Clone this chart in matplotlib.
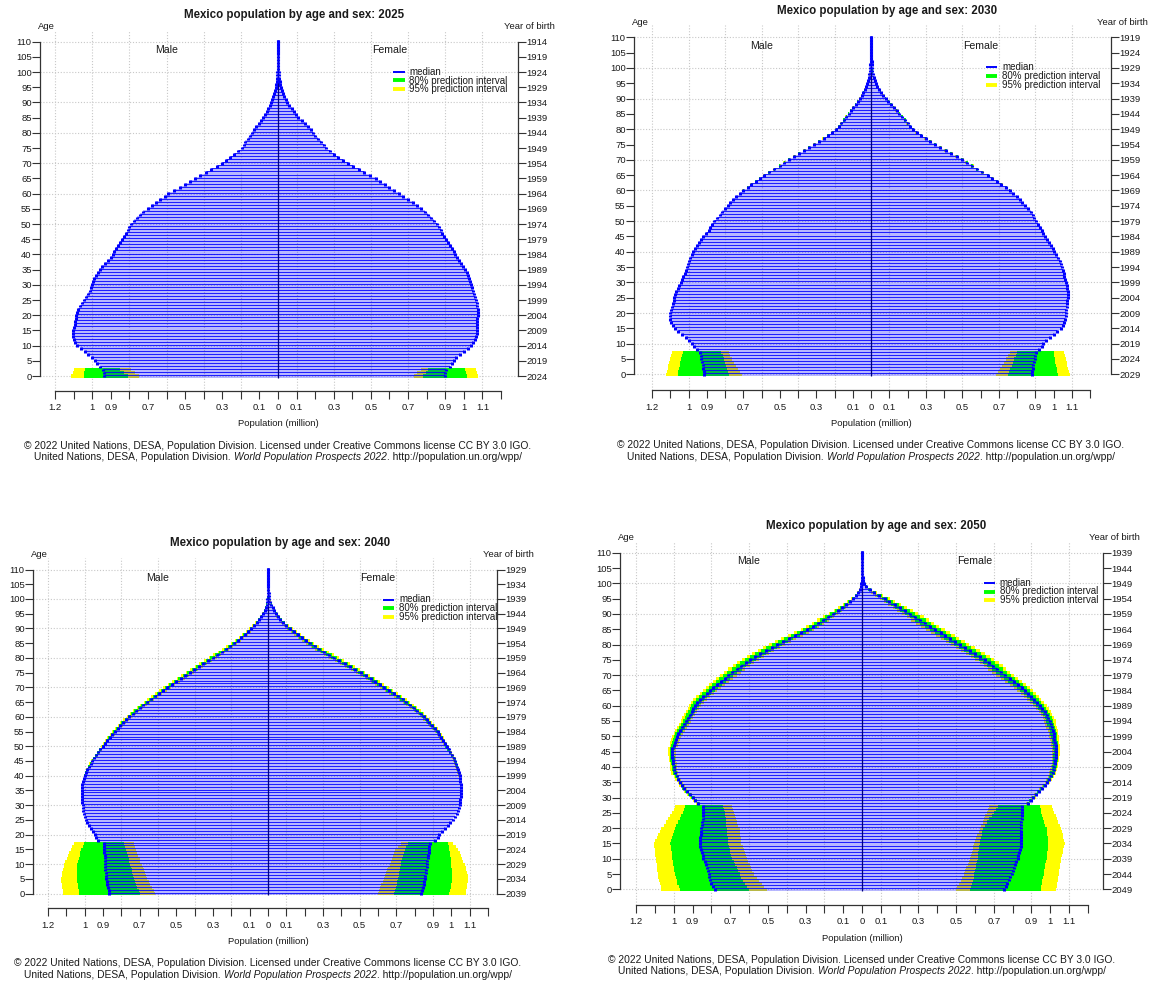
import numpy as np
import matplotlib
matplotlib.use("Agg")
import matplotlib.pyplot as plt

plt.rcParams['font.family'] = ['Liberation Sans', 'DejaVu Sans']

W, H = 1149, 981
ages = np.arange(111)

# ---------------- medians, million, ages 0..110 ----------------
male_2025 = [
    0.935, 0.935, 0.94, 0.96, 0.975, 0.985, 1.0, 1.02, 1.04, 1.06,
    1.08, 1.09, 1.10, 1.105, 1.105, 1.105, 1.10, 1.095, 1.09, 1.085,
    1.085, 1.08, 1.075, 1.065, 1.055, 1.045, 1.035, 1.02, 1.01, 1.005,
    1.0, 0.995, 0.99, 0.98, 0.97, 0.96, 0.945, 0.93, 0.915, 0.90,
    0.89, 0.88, 0.87, 0.86, 0.85, 0.84, 0.83, 0.82, 0.81, 0.80,
    0.79, 0.775, 0.76, 0.745, 0.725, 0.70, 0.68, 0.655, 0.635, 0.61,
    0.59, 0.56, 0.53, 0.50, 0.475, 0.447, 0.42, 0.39, 0.36, 0.33,
    0.30, 0.28, 0.26, 0.235, 0.215, 0.195, 0.185, 0.175, 0.163, 0.152,
    0.142, 0.13, 0.117, 0.104, 0.091, 0.079, 0.07, 0.061, 0.053, 0.045,
    0.038, 0.031, 0.025, 0.02, 0.016, 0.012, 0.009, 0.007, 0.005, 0.004,
    0.003, 0.002, 0.0015, 0.001, 0.0007, 0.0005, 0.0003, 0.0002, 0.0001, 0.0001, 0.0]
female_2025 = [
    0.90, 0.90, 0.905, 0.925, 0.935, 0.945, 0.96, 0.98, 1.0, 1.02,
    1.04, 1.05, 1.06, 1.065, 1.07, 1.07, 1.07, 1.07, 1.07, 1.07,
    1.075, 1.075, 1.075, 1.07, 1.07, 1.065, 1.06, 1.055, 1.05, 1.045,
    1.04, 1.035, 1.03, 1.025, 1.015, 1.005, 0.995, 0.985, 0.975, 0.965,
    0.955, 0.945, 0.935, 0.925, 0.915, 0.905, 0.895, 0.885, 0.875, 0.865,
    0.855, 0.84, 0.825, 0.81, 0.79, 0.77, 0.75, 0.725, 0.70, 0.675,
    0.65, 0.625, 0.60, 0.575, 0.55, 0.525, 0.495, 0.465, 0.435, 0.405,
    0.375, 0.35, 0.325, 0.30, 0.28, 0.26, 0.245, 0.23, 0.215, 0.20,
    0.19, 0.175, 0.16, 0.145, 0.13, 0.11, 0.097, 0.085, 0.073, 0.06,
    0.05, 0.041, 0.034, 0.027, 0.021, 0.016, 0.012, 0.009, 0.006, 0.004,
    0.003, 0.002, 0.0015, 0.001, 0.0007, 0.0005, 0.0003, 0.0002, 0.0001, 0.0001, 0.0]

male_2030 = [
    0.915, 0.917, 0.92, 0.923, 0.926, 0.929, 0.932, 0.935, 0.955, 0.97,
    0.98, 0.995, 1.015, 1.035, 1.055, 1.075, 1.085, 1.095, 1.10, 1.10,
    1.10, 1.095, 1.09, 1.085, 1.08, 1.08, 1.075, 1.07, 1.06, 1.05,
    1.04, 1.035, 1.03, 1.02, 1.015, 1.01, 1.005, 0.995, 0.99, 0.98,
    0.975, 0.965, 0.955, 0.945, 0.93, 0.92, 0.905, 0.89, 0.88, 0.87,
    0.86, 0.845, 0.83, 0.815, 0.80, 0.785, 0.77, 0.755, 0.74, 0.72,
    0.70, 0.675, 0.655, 0.63, 0.61, 0.585, 0.56, 0.53, 0.50, 0.475,
    0.45, 0.42, 0.395, 0.365, 0.34, 0.31, 0.285, 0.26, 0.235, 0.212,
    0.19, 0.175, 0.162, 0.148, 0.135, 0.123, 0.11, 0.097, 0.084, 0.072,
    0.06, 0.05, 0.042, 0.034, 0.027, 0.021, 0.016, 0.012, 0.009, 0.006,
    0.004, 0.003, 0.002, 0.0015, 0.001, 0.0007, 0.0004, 0.0002, 0.0001, 0.0001, 0.0]
female_2030 = [
    0.88, 0.883, 0.886, 0.89, 0.893, 0.896, 0.90, 0.904, 0.92, 0.935,
    0.945, 0.96, 0.98, 1.0, 1.02, 1.04, 1.05, 1.06, 1.065, 1.07,
    1.07, 1.07, 1.075, 1.075, 1.075, 1.08, 1.08, 1.08, 1.075, 1.075,
    1.07, 1.065, 1.06, 1.055, 1.05, 1.045, 1.04, 1.035, 1.025, 1.015,
    1.005, 0.995, 0.985, 0.975, 0.965, 0.955, 0.945, 0.935, 0.925, 0.915,
    0.905, 0.895, 0.885, 0.875, 0.86, 0.845, 0.83, 0.815, 0.80, 0.78,
    0.76, 0.74, 0.715, 0.69, 0.665, 0.64, 0.61, 0.58, 0.555, 0.525,
    0.50, 0.47, 0.44, 0.41, 0.38, 0.35, 0.325, 0.30, 0.275, 0.25,
    0.23, 0.215, 0.20, 0.185, 0.17, 0.155, 0.14, 0.125, 0.11, 0.095,
    0.08, 0.066, 0.054, 0.044, 0.035, 0.027, 0.02, 0.015, 0.011, 0.008,
    0.005, 0.004, 0.003, 0.002, 0.0013, 0.0008, 0.0005, 0.0003, 0.0002, 0.0001, 0.0]

male_2040 = [
    0.866, 0.87, 0.873, 0.876, 0.879, 0.882, 0.884, 0.886, 0.888, 0.889,
    0.89, 0.89, 0.891, 0.891, 0.892, 0.892, 0.892, 0.892, 0.93, 0.94,
    0.945, 0.955, 0.965, 0.975, 0.985, 0.995, 1.0, 1.005, 1.008, 1.01,
    1.012, 1.014, 1.015, 1.016, 1.016, 1.016, 1.015, 1.013, 1.01, 1.005,
    1.0, 0.993, 0.985, 0.977, 0.968, 0.958, 0.948, 0.937, 0.926, 0.914,
    0.902, 0.89, 0.877, 0.864, 0.85, 0.836, 0.821, 0.806, 0.79, 0.773,
    0.756, 0.738, 0.72, 0.70, 0.68, 0.66, 0.64, 0.618, 0.596, 0.573,
    0.55, 0.526, 0.502, 0.477, 0.452, 0.427, 0.402, 0.377, 0.352, 0.327,
    0.302, 0.277, 0.253, 0.23, 0.208, 0.186, 0.165, 0.145, 0.126, 0.108,
    0.092, 0.076, 0.062, 0.049, 0.037, 0.027, 0.019, 0.013, 0.008, 0.005,
    0.003, 0.002, 0.0013, 0.0008, 0.0005, 0.0003, 0.0002, 0.0001, 0.0001, 0.0, 0.0]
female_2040 = [
    0.837, 0.841, 0.845, 0.849, 0.853, 0.857, 0.859, 0.861, 0.864, 0.866,
    0.868, 0.87, 0.872, 0.874, 0.876, 0.878, 0.88, 0.882, 0.91, 0.925,
    0.935, 0.95, 0.965, 0.98, 0.995, 1.01, 1.02, 1.03, 1.035, 1.04,
    1.045, 1.05, 1.05, 1.055, 1.055, 1.055, 1.055, 1.055, 1.05, 1.05,
    1.045, 1.04, 1.035, 1.03, 1.025, 1.02, 1.015, 1.005, 0.995, 0.985,
    0.975, 0.965, 0.955, 0.945, 0.935, 0.925, 0.91, 0.895, 0.88, 0.865,
    0.85, 0.835, 0.815, 0.795, 0.775, 0.755, 0.735, 0.71, 0.685, 0.66,
    0.635, 0.61, 0.585, 0.56, 0.532, 0.505, 0.477, 0.448, 0.419, 0.39,
    0.36, 0.333, 0.306, 0.28, 0.255, 0.23, 0.207, 0.184, 0.162, 0.141,
    0.12, 0.10, 0.083, 0.068, 0.055, 0.044, 0.034, 0.025, 0.018, 0.012,
    0.008, 0.005, 0.003, 0.002, 0.0012, 0.0007, 0.0004, 0.0002, 0.0001, 0.0001, 0.0]

male_2050 = [
    0.78, 0.79, 0.80, 0.805, 0.81, 0.815, 0.82, 0.825, 0.83, 0.835,
    0.843, 0.847, 0.851, 0.855, 0.858, 0.86, 0.86, 0.858, 0.856, 0.854,
    0.853, 0.851, 0.849, 0.847, 0.845, 0.843, 0.842, 0.842, 0.87, 0.885,
    0.90, 0.915, 0.93, 0.945, 0.955, 0.965, 0.975, 0.985, 0.995, 1.0,
    1.0, 1.003, 1.005, 1.007, 1.008, 1.008, 1.007, 1.0, 0.995, 0.99,
    0.985, 0.975, 0.965, 0.955, 0.945, 0.935, 0.925, 0.915, 0.905, 0.895,
    0.887, 0.875, 0.86, 0.845, 0.825, 0.806, 0.79, 0.77, 0.75, 0.73,
    0.71, 0.69, 0.665, 0.642, 0.618, 0.594, 0.567, 0.54, 0.51, 0.48,
    0.45, 0.42, 0.39, 0.355, 0.322, 0.29, 0.262, 0.234, 0.206, 0.178,
    0.152, 0.128, 0.105, 0.085, 0.065, 0.046, 0.032, 0.02, 0.011, 0.006,
    0.003, 0.002, 0.0013, 0.0008, 0.0005, 0.0003, 0.0002, 0.0001, 0.0001, 0.0, 0.0]
female_2050 = [
    0.755, 0.765, 0.772, 0.78, 0.787, 0.795, 0.802, 0.809, 0.815, 0.82,
    0.826, 0.83, 0.835, 0.84, 0.843, 0.846, 0.846, 0.846, 0.846, 0.846,
    0.846, 0.846, 0.847, 0.848, 0.849, 0.85, 0.85, 0.851, 0.88, 0.895,
    0.91, 0.925, 0.94, 0.955, 0.97, 0.985, 0.995, 1.005, 1.012, 1.018,
    1.022, 1.025, 1.027, 1.028, 1.029, 1.03, 1.03, 1.028, 1.025, 1.022,
    1.02, 1.017, 1.013, 1.008, 1.003, 0.998, 0.99, 0.98, 0.97, 0.958,
    0.945, 0.93, 0.915, 0.90, 0.883, 0.866, 0.848, 0.828, 0.806, 0.784,
    0.76, 0.74, 0.718, 0.697, 0.675, 0.653, 0.628, 0.602, 0.575, 0.548,
    0.52, 0.495, 0.468, 0.443, 0.417, 0.39, 0.363, 0.336, 0.309, 0.282,
    0.255, 0.228, 0.20, 0.173, 0.146, 0.12, 0.092, 0.066, 0.04, 0.022,
    0.012, 0.006, 0.003, 0.0015, 0.0008, 0.0004, 0.0002, 0.0001, 0.0001, 0.0, 0.0]

# ---------------- prediction intervals for the projected young ages ----------------
# order: lo95, lo80, hi80, hi95
m25_band = ([0.75, 0.77, 0.79], [0.81, 0.83, 0.85], [1.045, 1.045, 1.04], [1.115, 1.105, 1.10])
f25_band = ([0.73, 0.75, 0.77], [0.78, 0.797, 0.81], [1.016, 1.012, 1.008], [1.076, 1.07, 1.065])

m30_band = ([0.705, 0.716, 0.727, 0.738, 0.749, 0.76, 0.77, 0.78],
            [0.776, 0.782, 0.788, 0.795, 0.80, 0.807, 0.813, 0.82],
            [1.06, 1.056, 1.052, 1.048, 1.044, 1.04, 1.035, 1.03],
            [1.125, 1.12, 1.115, 1.11, 1.105, 1.10, 1.095, 1.09])
f30_band = ([0.686, 0.697, 0.708, 0.718, 0.729, 0.74, 0.75, 0.76],
            [0.75, 0.757, 0.764, 0.771, 0.779, 0.786, 0.793, 0.80],
            [1.024, 1.02, 1.017, 1.014, 1.01, 1.007, 1.003, 1.0],
            [1.09, 1.085, 1.08, 1.076, 1.072, 1.068, 1.064, 1.06])

m40_band = ([0.615, 0.624, 0.633, 0.642, 0.651, 0.66, 0.666, 0.672, 0.678, 0.684, 0.69, 0.696, 0.701, 0.707, 0.712, 0.718, 0.725, 0.732],
            [0.70, 0.706, 0.712, 0.718, 0.724, 0.73, 0.735, 0.74, 0.744, 0.748, 0.753, 0.757, 0.761, 0.765, 0.769, 0.773, 0.78, 0.788],
            [1.03, 1.033, 1.036, 1.039, 1.042, 1.044, 1.043, 1.042, 1.041, 1.04, 1.04, 1.036, 1.032, 1.028, 1.024, 1.02, 1.012, 1.005],
            [1.116, 1.12, 1.124, 1.126, 1.128, 1.128, 1.126, 1.122, 1.118, 1.115, 1.112, 1.105, 1.098, 1.09, 1.083, 1.075, 1.068, 1.06])
f40_band = ([0.60, 0.606, 0.613, 0.619, 0.626, 0.632, 0.638, 0.644, 0.651, 0.657, 0.663, 0.669, 0.675, 0.681, 0.687, 0.693, 0.708, 0.724],
            [0.69, 0.694, 0.698, 0.702, 0.706, 0.71, 0.713, 0.716, 0.718, 0.721, 0.724, 0.728, 0.732, 0.736, 0.74, 0.745, 0.755, 0.765],
            [0.99, 0.993, 0.996, 0.999, 1.002, 1.005, 1.004, 1.003, 1.002, 1.001, 1.0, 0.998, 0.996, 0.994, 0.992, 0.99, 0.985, 0.98],
            [1.079, 1.082, 1.085, 1.088, 1.091, 1.093, 1.09, 1.086, 1.082, 1.078, 1.073, 1.066, 1.059, 1.052, 1.045, 1.038, 1.025, 1.011])

m50_band = ([0.505, 0.519, 0.533, 0.546, 0.56, 0.574, 0.582, 0.589, 0.597, 0.604, 0.612, 0.618, 0.623, 0.629, 0.634, 0.64, 0.642, 0.644, 0.646, 0.648, 0.65, 0.656, 0.662, 0.668, 0.674, 0.68, 0.685, 0.69],
            [0.602, 0.612, 0.622, 0.631, 0.641, 0.65, 0.658, 0.666, 0.674, 0.682, 0.69, 0.694, 0.699, 0.703, 0.708, 0.712, 0.713, 0.714, 0.716, 0.717, 0.718, 0.72, 0.722, 0.724, 0.726, 0.728, 0.733, 0.737],
            [0.968, 0.974, 0.98, 0.985, 0.99, 0.995, 0.997, 1.0, 1.002, 1.005, 1.007, 1.009, 1.011, 1.013, 1.015, 1.017, 1.013, 1.008, 1.004, 1.0, 0.995, 0.986, 0.977, 0.968, 0.959, 0.95, 0.945, 0.94],
            [1.065, 1.07, 1.074, 1.078, 1.082, 1.085, 1.087, 1.089, 1.091, 1.093, 1.095, 1.097, 1.099, 1.101, 1.103, 1.104, 1.098, 1.09, 1.082, 1.074, 1.065, 1.054, 1.042, 1.03, 1.018, 1.007, 1.0, 0.995])
f50_band = ([0.499, 0.507, 0.515, 0.524, 0.532, 0.54, 0.547, 0.554, 0.561, 0.568, 0.575, 0.579, 0.583, 0.587, 0.591, 0.595, 0.601, 0.607, 0.613, 0.619, 0.625, 0.633, 0.64, 0.648, 0.655, 0.663, 0.668, 0.672],
            [0.575, 0.579, 0.584, 0.588, 0.593, 0.597, 0.60, 0.604, 0.607, 0.611, 0.614, 0.616, 0.618, 0.621, 0.623, 0.625, 0.629, 0.632, 0.636, 0.639, 0.643, 0.654, 0.666, 0.677, 0.689, 0.70, 0.71, 0.72],
            [0.948, 0.951, 0.955, 0.958, 0.962, 0.965, 0.968, 0.971, 0.974, 0.977, 0.98, 0.982, 0.984, 0.986, 0.988, 0.99, 0.988, 0.986, 0.984, 0.982, 0.98, 0.974, 0.969, 0.963, 0.958, 0.952, 0.948, 0.945],
            [1.03, 1.033, 1.036, 1.039, 1.042, 1.045, 1.048, 1.05, 1.053, 1.055, 1.058, 1.062, 1.066, 1.07, 1.074, 1.078, 1.074, 1.07, 1.066, 1.062, 1.058, 1.05, 1.043, 1.035, 1.028, 1.02, 1.015, 1.01])

# ---------------- relative half-width of the intervals at older ages ----------------
old_2030_start = 60
old_2030_r95 = [0.008, 0.008, 0.009, 0.009, 0.01, 0.01, 0.011, 0.012, 0.013, 0.014,
                0.015, 0.016, 0.017, 0.018, 0.019, 0.02, 0.022, 0.024, 0.026, 0.028,
                0.03, 0.032, 0.034, 0.036, 0.038, 0.04, 0.043, 0.046, 0.049, 0.052,
                0.055, 0.058, 0.062, 0.066, 0.07, 0.075, 0.08, 0.085, 0.09, 0.095] + [0.1] * 11
old_2030_r80 = [0.005, 0.005, 0.006, 0.006, 0.006, 0.006, 0.007, 0.007, 0.008, 0.009,
                0.009, 0.01, 0.011, 0.011, 0.012, 0.012, 0.014, 0.015, 0.016, 0.017,
                0.019, 0.02, 0.021, 0.022, 0.024, 0.025, 0.027, 0.029, 0.03, 0.032,
                0.034, 0.036, 0.038, 0.041, 0.043, 0.046, 0.05, 0.053, 0.056, 0.059] + [0.062] * 11

old_2040_start = 40
old_2040_r95 = [0.006, 0.006, 0.007, 0.007, 0.008, 0.008, 0.009, 0.009, 0.01, 0.01,
                0.011, 0.012, 0.013, 0.014, 0.015, 0.016, 0.017, 0.018, 0.019, 0.02,
                0.021, 0.022, 0.023, 0.024, 0.026, 0.027, 0.029, 0.031, 0.033, 0.035,
                0.037, 0.039, 0.042, 0.045, 0.048, 0.051, 0.054, 0.058, 0.062, 0.066,
                0.07, 0.075, 0.08, 0.085, 0.09, 0.096, 0.102, 0.108, 0.115, 0.122,
                0.13, 0.138, 0.147, 0.156, 0.166, 0.177, 0.188, 0.2, 0.21, 0.22] + [0.23] * 11
old_2040_r80 = [0.004, 0.004, 0.004, 0.004, 0.005, 0.005, 0.006, 0.006, 0.006, 0.006,
                0.007, 0.007, 0.008, 0.009, 0.009, 0.01, 0.011, 0.011, 0.012, 0.012,
                0.013, 0.014, 0.014, 0.015, 0.016, 0.017, 0.018, 0.019, 0.02, 0.022,
                0.023, 0.024, 0.026, 0.028, 0.03, 0.032, 0.033, 0.036, 0.038, 0.041,
                0.043, 0.046, 0.05, 0.053, 0.056, 0.06, 0.063, 0.067, 0.071, 0.076,
                0.08, 0.086, 0.091, 0.097, 0.103, 0.11, 0.117, 0.124, 0.13, 0.136] + [0.143] * 11

old_2050_start = 28
old_2050_r95 = [0.012, 0.012, 0.013, 0.013, 0.014, 0.014, 0.015, 0.015, 0.016, 0.016, 0.017, 0.017,
                0.018, 0.018, 0.019, 0.019, 0.02, 0.02, 0.021, 0.022, 0.023, 0.024,
                0.025, 0.026, 0.027, 0.028, 0.029, 0.03, 0.031, 0.032, 0.033, 0.035,
                0.037, 0.039, 0.041, 0.043, 0.045, 0.047, 0.05, 0.053, 0.056, 0.059,
                0.062, 0.065, 0.068, 0.071, 0.074, 0.077, 0.08, 0.084, 0.088, 0.092,
                0.096, 0.1, 0.106, 0.112, 0.118, 0.125, 0.133, 0.141, 0.15, 0.16,
                0.17, 0.18, 0.19, 0.2, 0.21, 0.22, 0.23, 0.24, 0.25, 0.26] + [0.27] * 11
old_2050_r80 = [0.007, 0.007, 0.008, 0.008, 0.009, 0.009, 0.009, 0.009, 0.01, 0.01, 0.011, 0.011,
                0.011, 0.011, 0.012, 0.012, 0.012, 0.012, 0.013, 0.014, 0.014, 0.015,
                0.016, 0.016, 0.017, 0.017, 0.018, 0.019, 0.019, 0.02, 0.02, 0.022,
                0.023, 0.024, 0.025, 0.027, 0.028, 0.029, 0.031, 0.033, 0.035, 0.037,
                0.038, 0.04, 0.042, 0.044, 0.046, 0.048, 0.05, 0.052, 0.055, 0.057,
                0.06, 0.062, 0.066, 0.069, 0.073, 0.078, 0.082, 0.087, 0.093, 0.099,
                0.105, 0.112, 0.118, 0.124, 0.13, 0.136, 0.143, 0.149, 0.155, 0.161] + [0.167] * 11

# ---------------- axis labels ----------------
xtick_all = [round(v, 1) for v in np.arange(-1.2, 1.25, 0.1)]
xtick_labeled = [-1.2, -1.0, -0.9, -0.7, -0.5, -0.3, -0.1, 0.0, 0.1, 0.3, 0.5, 0.7, 0.9, 1.0, 1.1]
xtick_text = ['1.2', '1', '0.9', '0.7', '0.5', '0.3', '0.1', '0', '0.1', '0.3', '0.5', '0.7', '0.9', '1', '1.1']
grid_x = [-1.2, -1.0, -0.8, -0.6, -0.4, -0.2, 0.1, 0.3, 0.5, 0.7, 0.9, 1.1]
age_ticks = list(range(0, 111, 5))

legend_labels = ['median', '80% prediction interval', '95% prediction interval']
legend_colors = ['#0000ff', '#00ff00', '#ffff00']
legend_lw = [1.4, 2.8, 2.8]

copyright1 = "\u00a9 2022 United Nations, DESA, Population Division. Licensed under Creative Commons license CC BY 3.0 IGO."
copyright2 = ["United Nations, DESA, Population Division. ", "World Population Prospects 2022", ". http://population.un.org/wpp/"]

# pixel geometry of each panel in the 1149x981 picture
panels = [
    dict(year=2025, male=male_2025, female=female_2025, mb=m25_band, fb=f25_band,
         start=None, r95=None, r80=None,
         cx=278, s=185.8, xl=40, xr=518, y110=41.7, y0=376.0, xa=390.7, leg=(0.619, 0.683, 0.705)),
    dict(year=2030, male=male_2030, female=female_2030, mb=m30_band, fb=f30_band,
         start=old_2030_start, r95=old_2030_r95, r80=old_2030_r80,
         cx=871, s=182.5, xl=634, xr=1111, y110=37.3, y0=374.3, xa=390.0, leg=(0.628, 0.689, 0.718)),
    dict(year=2040, male=male_2040, female=female_2040, mb=m40_band, fb=f40_band,
         start=old_2040_start, r95=old_2040_r95, r80=old_2040_r80,
         cx=268, s=183.3, xl=33, xr=497, y110=569.5, y0=893.5, xa=908.3, leg=(0.63, 0.69, 0.717)),
    dict(year=2050, male=male_2050, female=female_2050, mb=m50_band, fb=f50_band,
         start=old_2050_start, r95=old_2050_r95, r80=old_2050_r80,
         cx=862, s=188.3, xl=620, xr=1103, y110=552.7, y0=889.3, xa=905.0, leg=(0.647, 0.705, 0.731)),
]

TXT = '#1a1a1a'
AXC = '#333333'
GRID = '#c8c8c8'
FS_TICK = 6.8
FS_TITLE = 8.3
FS_COPY = 7.4

fig = plt.figure(figsize=(W / 100, H / 100), dpi=100)
renderer = fig.canvas.get_renderer()


def fx(x):
    return x / W


def fy(y):
    return 1 - y / H


def full_bands(med, young, start, r95, r80):
    med = np.asarray(med)
    lo95 = np.full(111, np.nan)
    lo80 = np.full(111, np.nan)
    hi80 = np.full(111, np.nan)
    hi95 = np.full(111, np.nan)
    n = len(young[0])
    lo95[:n], lo80[:n], hi80[:n], hi95[:n] = young
    if start is not None:
        r95 = np.asarray(r95)
        r80 = np.asarray(r80)
        seg = med[start:]
        lo95[start:] = seg * (1 - r95)
        hi95[start:] = seg * (1 + r95)
        lo80[start:] = seg * (1 - r80)
        hi80[start:] = seg * (1 + r80)
    return lo95, lo80, hi80, hi95


def draw_panel(p):
    ppa = (p['y0'] - p['y110']) / 110.0
    ytop = p['y110'] - 12
    ax = fig.add_axes([fx(p['xl']), fy(p['xa']), (p['xr'] - p['xl']) / W, (p['xa'] - ytop) / H])
    ax.set_xlim((p['xl'] - p['cx']) / p['s'], (p['xr'] - p['cx']) / p['s'])
    ax.set_ylim((p['y0'] - p['xa']) / ppa, (p['y0'] - ytop) / ppa)
    ax.patch.set_alpha(0)

    for g in grid_x:
        ax.axvline(g, color=GRID, lw=0.8, ls=(0, (1, 1.6)), zorder=1)
    for a in range(0, 111, 10):
        ax.axhline(a, color=GRID, lw=0.8, ls=(0, (1, 1.6)), zorder=1)

    for sign, med, young in ((-1, p['male'], p['mb']), (1, p['female'], p['fb'])):
        med = np.asarray(med)
        lo95, lo80, hi80, hi95 = full_bands(med, young, p['start'], p['r95'], p['r80'])
        ok = ~np.isnan(lo95)
        ax.barh(ages[ok], sign * (hi95 - lo95)[ok], left=sign * lo95[ok], height=1.0,
                color='#ffff00', lw=0, antialiased=False, zorder=2)
        ax.barh(ages[ok], sign * (hi80 - lo80)[ok], left=sign * lo80[ok], height=1.0,
                color='#00ff00', lw=0, antialiased=False, zorder=2.5)
        ax.barh(ages, sign * med, height=1.0, color=(0, 0, 1, 0.28), lw=0,
                antialiased=False, zorder=3)
        ax.hlines(ages + 0.3, 0, sign * med, color=(0, 0, 1, 0.85), lw=0.7, zorder=3.5)
        ax.vlines(sign * med, ages - 0.45, ages + 0.45, color='#0000ff', lw=2.2, zorder=5)
    ax.vlines(0, -0.5, 110.5, color='#000080', lw=0.9, zorder=4)

    # axes
    for side in ('top', 'right'):
        ax.spines[side].set_visible(False)
    ax.spines['left'].set_bounds(0, 110)
    ax.spines['bottom'].set_bounds(-1.2, 1.2)
    for side in ('left', 'bottom'):
        ax.spines[side].set_color(AXC)
        ax.spines[side].set_linewidth(0.9)
    ax.set_yticks(age_ticks)
    ax.set_yticklabels([str(a) for a in age_ticks])
    ax.set_xticks(xtick_all)
    ax.set_xticklabels([xtick_text[xtick_labeled.index(v)] if v in xtick_labeled else '' for v in xtick_all])
    ax.tick_params(axis='y', direction='out', length=5.5, width=0.8, color=AXC,
                   labelcolor=TXT, labelsize=FS_TICK, pad=0.5)
    ax.tick_params(axis='x', direction='out', length=5.5, width=0.8, color=AXC,
                   labelcolor=TXT, labelsize=FS_TICK, pad=3.5)

    ax2 = ax.twinx()
    ax2.set_ylim(ax.get_ylim())
    for side in ('top', 'left', 'bottom'):
        ax2.spines[side].set_visible(False)
    ax2.spines['right'].set_bounds(0, 110)
    ax2.spines['right'].set_color(AXC)
    ax2.spines['right'].set_linewidth(0.9)
    ax2.set_yticks(age_ticks)
    ax2.set_yticklabels([str(p['year'] - 1 - a) for a in age_ticks])
    ax2.tick_params(axis='y', direction='out', length=5.5, width=0.8, color=AXC,
                    labelcolor=TXT, labelsize=FS_TICK, pad=0.5)

    # labels inside
    age_of = lambda y: (p['y0'] - y) / ppa
    ax.text(-0.6, age_of(p['y110'] + 8.3), 'Male', ha='center', va='center', fontsize=7.6, color=TXT)
    ax.text(0.6, age_of(p['y110'] + 8.3), 'Female', ha='center', va='center', fontsize=7.6, color=TXT)
    x0, x1, xt = p['leg']
    for k, (lab, col, lw) in enumerate(zip(legend_labels, legend_colors, legend_lw)):
        yy = age_of(p['y110'] + 30 + 8.8 * k)
        ax.plot([x0, x1], [yy, yy], color=col, lw=lw, solid_capstyle='butt', zorder=7)
        ax.text(xt, yy, lab, ha='left', va='center', fontsize=7.0, color=TXT, zorder=7)

    # labels outside, placed in picture pixels
    xc = (p['xl'] + p['xr']) / 2 + 15
    fig.text(fx(xc), fy(p['y110'] - 26.7), 'Mexico population by age and sex: %d' % p['year'],
             ha='center', va='center', fontsize=FS_TITLE, fontweight='bold', color=TXT)
    fig.text(fx(p['xl'] + 6.7), fy(p['y110'] - 15), 'Age', ha='center', va='center', fontsize=FS_TICK, color=TXT)
    fig.text(fx(p['xr'] + 11), fy(p['y110'] - 15), 'Year of birth', ha='center', va='center',
             fontsize=FS_TICK, color=TXT)
    fig.text(fx(p['cx']), fy(p['xa'] + 33.3), 'Population (million)', ha='center', va='center',
             fontsize=FS_TICK, color=TXT)
    fig.text(fx(p['cx']), fy(p['xa'] + 55), copyright1, ha='center', va='center', fontsize=FS_COPY, color=TXT)

    pieces = []
    for txt, st in zip(copyright2, ('normal', 'italic', 'normal')):
        t = fig.text(0, fy(p['xa'] + 66.5), txt, ha='left', va='center', fontsize=FS_COPY,
                     style=st, color=TXT)
        pieces.append(t)
    widths = [t.get_window_extent(renderer).width for t in pieces]
    total = sum(widths)
    x = p['cx'] - total / 2
    for t, w in zip(pieces, widths):
        t.set_x(fx(x))
        x += w


for p in panels:
    draw_panel(p)

fig.savefig('out.png', dpi=100)
